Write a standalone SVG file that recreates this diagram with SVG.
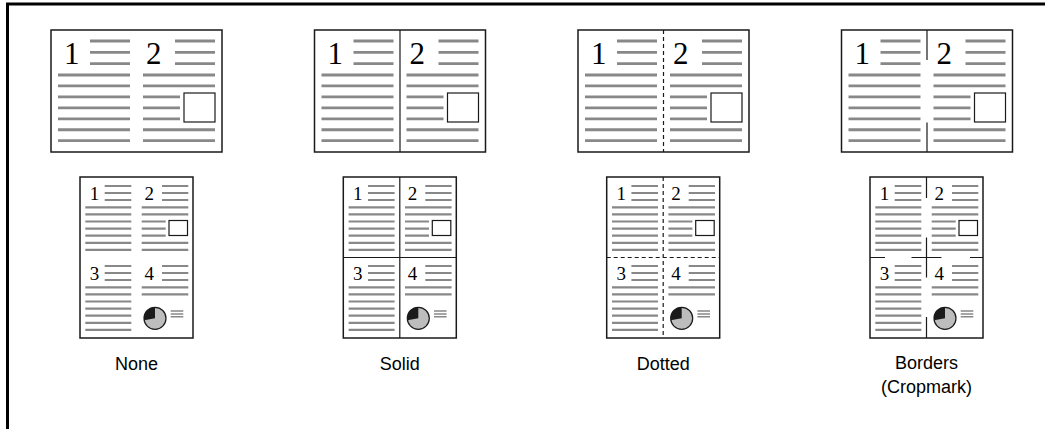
<svg xmlns="http://www.w3.org/2000/svg" xmlns:xlink="http://www.w3.org/1999/xlink" width="1045" height="429" viewBox="0 0 1045 429">
<style>
.page{fill:#fff;stroke:#1a1a1a;stroke-width:1.5}
.ln{stroke:#888;stroke-width:2.8;fill:none}
.lnp{stroke:#888;stroke-width:2.2;fill:none}
.lns{stroke:#888;stroke-width:1.4;fill:none}
.box{fill:#fff;stroke:#1a1a1a;stroke-width:1.2}
.dig{font-family:"Liberation Serif",serif;fill:#000}
.div{stroke:#1a1a1a;stroke-width:1.2;fill:none}
.dash{stroke:#1a1a1a;stroke-width:1.2;fill:none;stroke-dasharray:4 3}
.lbl{font-family:"Liberation Sans",Arial,sans-serif;font-size:18px;fill:#000;text-anchor:middle}
.frame{stroke:#000;stroke-width:3;fill:none}
</style>
<defs>
<g id="land">
<rect class="page" x="0" y="0" width="171" height="122"/>
<text class="dig" x="13" y="33.5" font-size="31">1</text>
<text class="dig" x="95" y="33.5" font-size="31">2</text>
<path class="ln" d="M39 11H79M39 22.3H79M39 33.7H79M7 45H79M7 55.95H79M7 66.9H79M7 77.85H79M7 88.8H79M7 99.75H79M7 110.7H79M124 11H164M124 22.3H164M124 33.7H164M92 45H164M92 55.95H164M92 66.9H129M92 77.85H129M92 88.8H129M92 99.75H164M92 110.7H164"/>
<rect class="box" x="133" y="63" width="31" height="29"/>
</g>
<g id="port">
<rect class="page" x="0" y="0" width="113" height="161"/>
<text class="dig" x="9.8" y="23.3" font-size="19">1</text>
<text class="dig" x="64.5" y="23.3" font-size="19">2</text>
<text class="dig" x="9.8" y="103.3" font-size="19">3</text>
<text class="dig" x="64.5" y="103.3" font-size="19">4</text>
<path class="lnp" d="M24.7 9H51.3M24.7 16H51.3M24.7 23H51.3M82 9H108.3M82 16H108.3M82 23H108.3M24.7 89H51.3M24.7 96H51.3M24.7 103H51.3M82 89H108.3M82 96H108.3M82 103H108.3M5.3 30.3H51.3M5.3 37.4H51.3M5.3 44.5H51.3M5.3 51.6H51.3M5.3 58.7H51.3M5.3 65.8H51.3M5.3 72.9H51.3M5.3 110.3H51.3M5.3 117.4H51.3M5.3 124.5H51.3M5.3 131.6H51.3M5.3 138.7H51.3M5.3 145.8H51.3M5.3 152.9H51.3M61.7 30.3H108.3M61.7 37.4H108.3M61.7 44.5H85.7M61.7 51.6H85.7M61.7 58.7H85.7M61.7 65.8H108.3M61.7 72.9H108.3M61.7 110.3H108.3M61.7 117.4H108.3"/>
<rect class="box" x="89" y="43.5" width="18.5" height="15"/>
<circle cx="75" cy="141.3" r="11" fill="#bdbdbd" stroke="#1a1a1a" stroke-width="1.2"/>
<path d="M75 141.3V130.3A11 11 0 0 0 64.2 143.2Z" fill="#1a1a1a"/>
<path class="lns" d="M90.7 134H103.3M90.7 137H103.3M90.7 139.8H103.3"/>
</g>
</defs>
<path class="frame" d="M7.5 429V4H1045"/>
<g id="none">
<use xlink:href="#land" x="51" y="30"/>
<use xlink:href="#port" x="80" y="177"/>
<text class="lbl" x="136.5" y="370">None</text>
</g>
<g id="solid">
<use xlink:href="#land" x="314.5" y="30"/>
<path class="div" d="M400 30V152"/>
<use xlink:href="#port" x="343.3" y="177"/>
<path class="div" d="M399.8 177V338M343.3 257.5H456.3"/>
<text class="lbl" x="399.8" y="370">Solid</text>
</g>
<g id="dotted">
<use xlink:href="#land" x="578" y="30"/>
<path class="dash" d="M663.5 30V152"/>
<use xlink:href="#port" x="606.7" y="177"/>
<path class="dash" d="M663.2 177V338M606.7 257.5H719.7"/>
<text class="lbl" x="663.2" y="370">Dotted</text>
</g>
<g id="borders">
<use xlink:href="#land" x="841.5" y="30"/>
<path class="div" d="M927 30V60M927 122.5V152"/>
<use xlink:href="#port" x="870" y="177"/>
<path class="div" d="M926.5 177V198M926.5 317V338M926.5 237.5V277.5M911.5 257.5H941.5M870 257.5H885M970 257.5H983"/>
<text class="lbl" x="926.5" y="369">Borders</text>
<text class="lbl" x="926.5" y="393">(Cropmark)</text>
</g>
<g id="connectors"/>
</svg>
